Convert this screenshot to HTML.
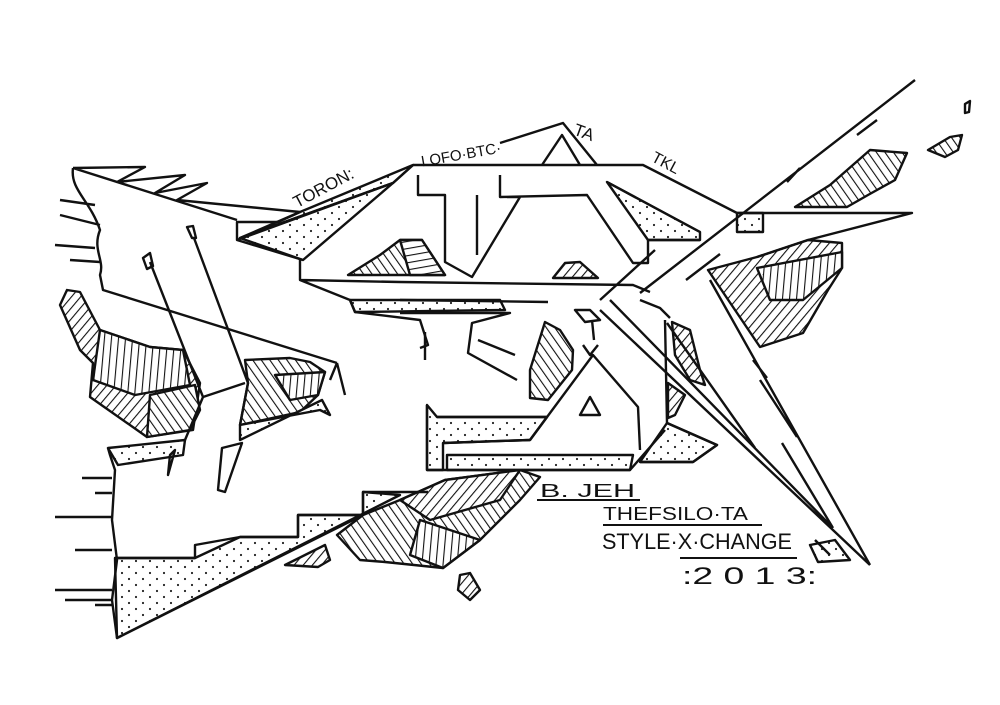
<!DOCTYPE html>
<html><head><meta charset="utf-8"><style>
html,body{margin:0;padding:0;background:#fff;}
svg{display:block}
text{font-family:"Liberation Sans",sans-serif;fill:#111}
</style></head><body>
<svg width="1000" height="705" viewBox="0 0 1000 705" xmlns="http://www.w3.org/2000/svg">
<defs>
<pattern id="h1" width="7" height="7" patternUnits="userSpaceOnUse" patternTransform="rotate(40)"><rect width="7" height="7" fill="#fff"/><line x1="0" y1="0" x2="0" y2="7" stroke="#111" stroke-width="2.2"/></pattern>
<pattern id="h2" width="7" height="7" patternUnits="userSpaceOnUse" patternTransform="rotate(-35)"><rect width="7" height="7" fill="#fff"/><line x1="0" y1="0" x2="0" y2="7" stroke="#111" stroke-width="2.2"/></pattern>
<pattern id="h3" width="7" height="7" patternUnits="userSpaceOnUse" patternTransform="rotate(80)"><rect width="7" height="7" fill="#fff"/><line x1="0" y1="0" x2="0" y2="7" stroke="#111" stroke-width="2.2"/></pattern>
<pattern id="h4" width="7" height="7" patternUnits="userSpaceOnUse" patternTransform="rotate(5)"><rect width="7" height="7" fill="#fff"/><line x1="0" y1="0" x2="0" y2="7" stroke="#111" stroke-width="2.2"/></pattern>
<pattern id="dots" width="14" height="12" patternUnits="userSpaceOnUse"><rect width="14" height="12" fill="#fff"/><circle cx="3" cy="3" r="1.1" fill="#222"/><circle cx="10" cy="9" r="1.1" fill="#222"/></pattern>
</defs>
<g stroke="#111" stroke-width="2.4" fill="none" stroke-linejoin="round">
<!-- left blob hatch -->
<path d="M67,290 L80,292 100,330 150,347 183,350 200,383 193,430 147,437 90,397 93,363 80,350 60,305 Z" fill="url(#h1)"/>
<path d="M100,330 L150,347 183,350 190,385 135,395 93,380 Z" fill="url(#h4)"/>
<path d="M150,395 L195,385 200,410 190,430 147,437 Z" fill="url(#h2)"/>
<path d="M245,360 L290,358 310,362 325,372 318,395 300,412 240,425 248,383 Z" fill="url(#h2)"/>
<path d="M275,375 L325,372 318,395 290,400 Z" fill="url(#h4)"/>
<path d="M240,425 L320,410 330,415 322,400 L240,440 Z" fill="url(#dots)"/>
<!-- top center hatched -->
<path d="M348,275 L380,255 400,240 422,240 445,275 Z" fill="url(#h2)"/>
<path d="M400,240 L422,240 445,275 410,275 Z" fill="url(#h3)"/>
<path d="M553,278 L565,263 580,262 598,278 Z" fill="url(#h1)"/>
<!-- right hatched -->
<path d="M708,270 L757,257 808,240 842,243 842,268 828,290 803,333 760,347 Z" fill="url(#h1)"/>
<path d="M757,268 L842,252 842,268 803,300 770,300 Z" fill="url(#h4)"/>
<path d="M795,207 L830,185 870,150 907,153 895,180 868,195 847,207 Z" fill="url(#h2)"/>
<path d="M928,150 L950,137 962,135 958,150 945,157 Z" fill="url(#h2)"/>
<path d="M965,104 L970,101 969,112 965,113 Z" fill="#fff"/>
<!-- middle hatched -->
<path d="M672,322 L690,330 700,370 705,385 690,380 675,355 Z" fill="url(#h1)"/>
<path d="M668,383 L685,395 675,415 668,418 Z" fill="url(#h1)"/>
<path d="M545,322 L560,330 573,350 572,370 548,400 530,398 530,370 Z" fill="url(#h2)"/>
<!-- bottom hatched -->
<path d="M337,535 L363,515 400,500 445,480 520,470 540,477 520,500 480,540 443,568 385,562 360,560 Z" fill="url(#h2)"/>
<path d="M400,500 L445,480 520,470 500,500 430,520 Z" fill="url(#h1)"/>
<path d="M420,520 L480,540 443,568 410,555 Z" fill="url(#h4)"/>
<path d="M285,565 L325,545 330,560 318,567 Z" fill="url(#h1)"/>
<path d="M460,575 L470,573 480,590 470,600 458,590 Z" fill="url(#h1)"/>
<!-- dotted shaded faces -->
<path d="M240,238 L393,183 413,165 300,212 Z" fill="url(#dots)"/>
<path d="M240,238 L303,260 393,183 Z" fill="url(#dots)"/>
<path d="M350,300 L500,300 505,310 355,312 Z" fill="url(#dots)"/>
<path d="M607,182 L700,232 700,240 648,240 Z" fill="url(#dots)"/>
<path d="M737,213 L763,213 763,232 737,232 Z" fill="url(#dots)"/>
<path d="M108,448 L185,440 183,455 118,465 Z" fill="url(#dots)"/>
<path d="M115,558 L195,558 240,537 298,537 298,515 363,515 363,492 400,495 117,638 Z" fill="url(#dots)"/>
<path d="M427,405 L437,417 547,417 530,440 443,443 443,470 427,470 Z" fill="url(#dots)"/>
<path d="M447,455 L633,455 630,470 447,470 Z" fill="url(#dots)"/>
<path d="M667,423 L717,445 693,462 640,462 Z" fill="url(#dots)"/>
<path d="M810,545 L835,540 850,560 818,562 Z" fill="url(#dots)"/>
<!-- left letter -->
<path d="M73,168 L145,167 117,182 185,175 155,193 207,183 177,200 300,212 M73,168 L237,220 M300,212 L278,222 237,222 237,240 303,260 M237,240 L393,183 413,165"/>
<path d="M73,168 C70,190 90,200 100,230 C92,250 105,260 100,275 L103,290 L337,363 M60,200 L95,205 M60,215 L100,225 M55,245 L95,248 M70,260 L100,262"/>
<path d="M143,258 L150,253 L153,266 L147,269 Z M150,262 L203,397 L185,440 M187,227 L192,238 L196,238 L193,226 Z M194,238 L248,383 L240,425 M203,397 L245,383 M337,363 L345,395 M337,363 L330,380"/>
<path d="M108,448 L110,455 115,470 112,520 117,560 112,600 117,638 L363,515 M115,558 L195,558 195,545 240,537 298,537 298,515 363,515 363,492 428,492 M82,478 L112,478 M55,517 L112,517 M95,493 L112,493 M75,550 L112,550 M55,590 L112,590 M65,600 L112,600 M95,605 L112,605"/>
<path d="M170,455 L175,450 168,475 Z M222,448 L242,443 225,492 218,490 Z"/>
<!-- top bar / T -->
<path d="M413,165 L643,165 737,213 790,213 912,213 808,240 757,257 M500,143 L563,123 597,165 M542,165 L562,135 580,165"/>
<path d="M418,175 L418,195 445,195 445,262 472,277 520,197 507,197 M477,195 L477,255 M500,175 L500,197 L587,195 633,263 648,263 648,240 700,240 M607,182 L700,232"/>
<path d="M300,260 L300,280 400,282 633,285 650,292 M300,280 L350,300 L355,312 L420,320 L428,345 L420,348"/>
<path d="M400,300 L548,302 M400,313 L510,313 472,323 468,353 517,380 M425,332 L425,360 M478,340 L515,355"/>
<!-- long diagonals -->
<path d="M915,80 L640,293 M877,120 L857,135 M800,168 L787,182 M720,254 L686,280 M655,250 L600,300 M640,300 L660,308 670,318"/>
<!-- middle A and right column -->
<path d="M530,440 L593,355 638,407 640,450 M583,345 L590,355 598,345 M580,415 L600,415 590,397 Z M592,320 L594,340 M575,310 L590,310 L600,320 L585,322 Z"/>
<path d="M427,405 L427,470 630,470 665,430 M443,443 L530,440 M437,417 L547,417 M665,320 L667,423 717,445 693,462 640,462"/>
<path d="M710,280 L870,565 M610,300 L833,528 M600,310 L870,565 M667,323 L755,448 M760,380 L797,437 M782,443 L833,528 M753,360 L767,378 M830,555 L815,540"/>
</g>
<!-- text -->
<text x="290" y="200" font-size="17" transform="rotate(-28 310 190)">TORON:</text>
<text x="420" y="158" font-size="15" transform="rotate(-10 470 150)">LOFO·BTC·</text>
<text x="575" y="140" font-size="17" transform="rotate(20 590 130)">TA</text>
<text x="652" y="170" font-size="16" transform="rotate(28 670 162)">TKL</text>
<text x="540" y="497" font-size="18" textLength="95" lengthAdjust="spacingAndGlyphs">B. JEH</text>
<text x="603" y="520" font-size="18" textLength="145" lengthAdjust="spacingAndGlyphs">THEFSILO·TA</text>
<text x="602" y="549" font-size="22" textLength="190" lengthAdjust="spacingAndGlyphs">STYLE·X·CHANGE</text>
<text x="682" y="584" font-size="24" textLength="135" lengthAdjust="spacingAndGlyphs">:2 0 1 3:</text>
<g stroke="#111" stroke-width="2">
<line x1="537" y1="500" x2="640" y2="500"/>
<line x1="603" y1="525" x2="762" y2="525"/>
<line x1="680" y1="558" x2="797" y2="558"/>
</g>
</svg>
</body></html>
